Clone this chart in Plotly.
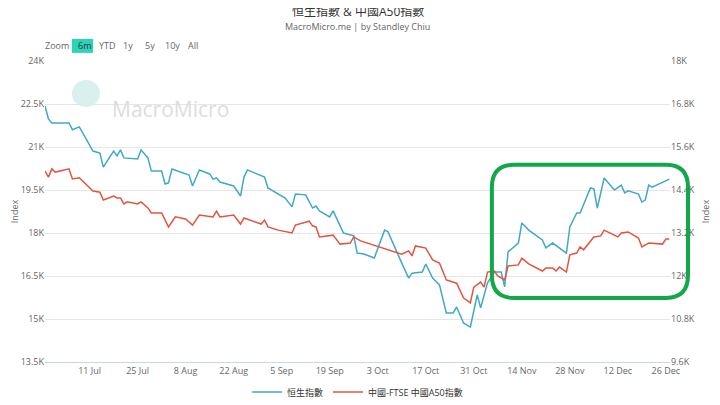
import plotly.graph_objects as go
import pandas as pd

start = pd.Timestamp("2022-06-28")

# 恒生指數 (left axis): days since start, value
hsi_days = [0, 1, 2, 7, 8, 10, 14, 16, 17, 20, 21, 22, 23, 27, 28, 30, 31, 34, 35, 36, 37, 42, 43, 45,
            48, 49, 50, 51, 55, 57, 58, 59, 64, 65, 70, 72, 73, 76, 78, 79, 80, 83, 84, 87, 90, 91, 93,
            96, 99, 100, 104, 106, 107, 110, 111, 113, 115, 117, 119, 120, 122, 124, 126, 127, 129, 131,
            133, 134, 135, 138, 139, 141, 145, 146, 148, 152, 153, 155, 156, 159, 160, 161, 163, 166,
            168, 169, 170, 173, 174, 175, 176, 177, 182]
hsi_vals = [22430, 21980, 21840, 21840, 21600, 21700, 20860, 20790, 20300, 20860, 20690, 20900, 20620,
            20580, 20900, 20620, 20160, 20160, 19710, 19750, 20230, 20020, 19640, 20200, 20060, 19880,
            19920, 19780, 19640, 19290, 19950, 20200, 19950, 19570, 19220, 18910, 19360, 19330, 18870,
            18940, 18770, 18560, 18770, 18000, 17900, 17300, 17270, 17130, 18100, 18040, 16950, 16430,
            16600, 16640, 16920, 16430, 16190, 15210, 15210, 15420, 14860, 14720, 15840, 15390, 16260,
            16640, 16640, 16120, 17340, 17650, 18350, 18100, 17760, 17480, 17650, 17300, 18210, 18700,
            18700, 19570, 19540, 18870, 19920, 19500, 19670, 19400, 19470, 19360, 19080, 19150, 19670,
            19600, 19880]

# 中國-FTSE 中國A50指數 (right axis)
a50_days = [0, 1, 2, 3, 7, 8, 10, 14, 16, 17, 20, 21, 22, 23, 24, 27, 28, 30, 31, 34, 36, 38, 41, 43,
            45, 49, 50, 51, 55, 57, 58, 63, 64, 65, 68, 69, 72, 73, 77, 78, 79, 80, 84, 86, 89, 90, 92,
            104, 106, 107, 108, 111, 113, 115, 117, 120, 122, 124, 125, 127, 128, 129, 131, 132, 134,
            135, 138, 139, 141, 145, 146, 148, 149, 150, 152, 153, 155, 156, 157, 160, 162, 163, 167,
            168, 170, 173, 174, 176, 180, 181, 182]
a50_vals = [14930, 14760, 14990, 14900, 14990, 14710, 14740, 14370, 14340, 14120, 14230, 14180, 14180,
            14010, 14070, 14010, 14070, 13900, 13760, 13760, 13370, 13650, 13590, 13420, 13700, 13650,
            13810, 13650, 13700, 13450, 13620, 13450, 13560, 13370, 13280, 13260, 13200, 13420, 13530,
            13400, 13370, 13090, 13140, 12890, 12920, 13090, 12980, 12610, 12700, 12560, 12840, 12780,
            12450, 12360, 11890, 11800, 11390, 11250, 11690, 11830, 11690, 12110, 12140, 12000, 11890,
            12280, 12310, 12500, 12340, 12140, 12220, 12220, 12140, 12250, 12110, 12590, 12640, 12810,
            12730, 13090, 13120, 13280, 13090, 13200, 13230, 13060, 12810, 12920, 12890, 13030, 13030]

hsi_x = [start + pd.Timedelta(days=d) for d in hsi_days]
a50_x = [start + pd.Timedelta(days=d) for d in a50_days]

BLUE = "#3fa9c9"
RED = "#e2553f"
GRID = "#e6e6e6"
TXT = "#666666"

fig = go.Figure()
fig.add_trace(go.Scatter(x=hsi_x, y=hsi_vals, name="恒生指數", mode="lines",
                         line=dict(color=BLUE, width=1.5)))
fig.add_trace(go.Scatter(x=a50_x, y=a50_vals, name="中國-FTSE 中國A50指數", mode="lines",
                         line=dict(color=RED, width=1.5), yaxis="y2"))

# green highlight box (paper coords), rounded corners
x0, x1, y0, y1, rx, ry = 0.715, 1.0288, 0.213, 0.655, 0.035, 0.075
path = (f"M {x0+rx},{y0} L {x1-rx},{y0} Q {x1},{y0} {x1},{y0+ry} L {x1},{y1-ry} "
        f"Q {x1},{y1} {x1-rx},{y1} L {x0+rx},{y1} Q {x0},{y1} {x0},{y1-ry} "
        f"L {x0},{y0+ry} Q {x0},{y0} {x0+rx},{y0} Z")
fig.add_shape(type="path", path=path, xref="paper", yref="paper",
              line=dict(color="#12a84a", width=4))

# watermark
fig.add_shape(type="circle", xref="paper", yref="paper", x0=0.043, x1=0.088, y0=0.847, y1=0.937,
              fillcolor="#d8f1ee", line=dict(width=0), layer="below")
fig.add_annotation(text="MacroMicro", xref="paper", yref="paper", x=0.104, y=0.894,
                   xanchor="left", showarrow=False, font=dict(size=21, color="#dddddd"))

# range selector look-alike
fig.add_shape(type="rect", xref="paper", yref="paper", x0=0.043, x1=0.077, y0=1.027, y1=1.073,
              fillcolor="#2ad4b4", line=dict(width=0))
for txt, px, col in [("Zoom", -0.004, TXT), ("6m", 0.049, "#333333"), ("YTD", 0.083, TXT),
                     ("1y", 0.122, TXT), ("5y", 0.157, TXT), ("10y", 0.189, TXT), ("All", 0.226, TXT)]:
    fig.add_annotation(text=txt, xref="paper", yref="paper", x=px, y=1.05, xanchor="left",
                       yanchor="middle", showarrow=False, font=dict(size=9, color=col))

# titles
fig.add_annotation(text="恒生指數 & 中國A50指數", xref="paper", yref="paper", x=0.5, y=1.165,
                   yanchor="middle", showarrow=False, font=dict(size=12, color="#333333"))
fig.add_annotation(text="MacroMicro.me | by Standley Chiu", xref="paper", yref="paper", x=0.5,
                   y=1.113, yanchor="middle", showarrow=False, font=dict(size=9, color=TXT))

fig.update_layout(
    width=720, height=405,
    margin=dict(l=37, r=58, t=53, b=51, autoexpand=False),
    plot_bgcolor="white", paper_bgcolor="white",
    font=dict(family="Open Sans, Noto Sans CJK TC", size=9, color=TXT),
    xaxis=dict(range=[start, start + pd.Timedelta(days=182.2)], tick0="2022-07-11",
               dtick=14 * 86400000, tickformat="%-d %b", showgrid=False,
               showline=True, linecolor="#ccd6eb", ticks="", tickfont=dict(size=9)),
    yaxis=dict(range=[13500, 24000], tickvals=[13500, 15000, 16500, 18000, 19500, 21000, 22500, 24000],
               ticktext=["13.5K", "15K", "16.5K", "18K", "19.5K", "21K", "22.5K", "24K"],
               gridcolor=GRID, zeroline=False, title=dict(text="Index", standoff=6, font=dict(size=9))),
    yaxis2=dict(range=[9600, 18000], overlaying="y", side="right",
                tickvals=[9600, 10800, 12000, 13200, 14400, 15600, 16800, 18000],
                ticktext=["9.6K", "10.8K", "12K", "13.2K", "14.4K", "15.6K", "16.8K", "18K"],
                showgrid=False, zeroline=False, title=dict(text="Index", standoff=8, font=dict(size=9))),
    legend=dict(orientation="h", x=0.5, xanchor="center", y=-0.1, yanchor="middle",
                font=dict(size=9, color="#333333")),
    showlegend=True,
)

fig.write_html("out.html")
